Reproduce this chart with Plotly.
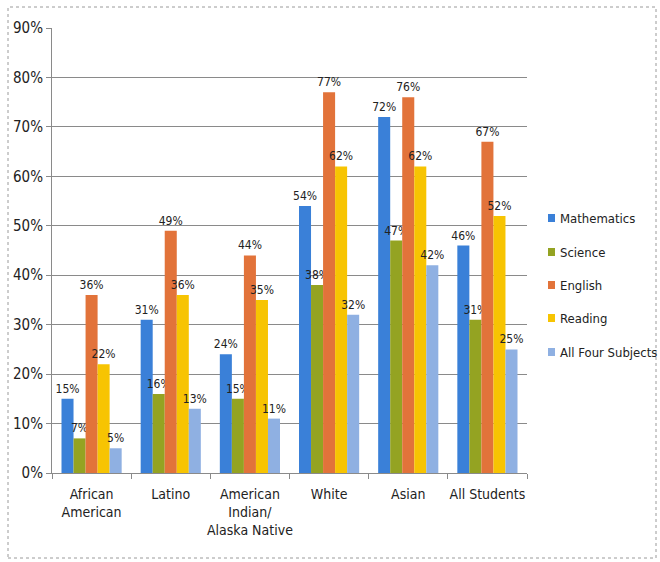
import plotly.graph_objects as go

categories = ["African<br>American", "Latino", "American<br>Indian/<br>Alaska Native", "White", "Asian", "All Students"]
series_names = ["Mathematics", "Science", "English", "Reading", "All Four Subjects"]
mathematics = [15, 31, 24, 54, 72, 46]
science = [7, 16, 15, 38, 47, 31]
english = [36, 49, 44, 77, 76, 67]
reading = [22, 36, 35, 62, 62, 52]
all_four = [5, 13, 11, 32, 42, 25]
colors = ["#3a80d8", "#94a322", "#e2733a", "#f7c402", "#8fb0e2"]
y_ticks = [0, 10, 20, 30, 40, 50, 60, 70, 80, 90]

FONT = "Liberation Sans Narrow, DejaVu Sans Condensed, Liberation Sans, Arial, sans-serif"

# plot area in pixels
L, R, T, B = 52, 527, 28, 473
W, H = R - L, B - T
def px(x):
    return (x - L) / W
def py(y):
    return (B - y) / H

fig = go.Figure()
for i, (name, vals) in enumerate(zip(series_names, [mathematics, science, english, reading, all_four])):
    fig.add_trace(go.Bar(
        x=categories, y=vals, name=name,
        marker=dict(color=colors[i], line=dict(width=0)),
        text=[f"{v}%" for v in vals], textposition="outside", constraintext="none",
        textfont=dict(family=FONT, size=12, color="#222"),
        cliponaxis=False, showlegend=False,
    ))

shapes = [dict(type="rect", xref="paper", yref="paper",
               x0=px(8), x1=px(656), y0=py(558), y1=py(7),
               line=dict(color="#9a9a9a", width=1, dash="dot"))]
annotations = []
legend_y = [218, 252, 285, 318, 352]
for i, name in enumerate(series_names):
    yc = legend_y[i]
    shapes.append(dict(type="rect", xref="paper", yref="paper",
                       x0=px(548), x1=px(555), y0=py(yc + 4), y1=py(yc - 4),
                       fillcolor=colors[i], line=dict(width=0)))
    annotations.append(dict(xref="paper", yref="paper", x=px(558), y=py(yc),
                            xanchor="left", yanchor="middle", showarrow=False,
                            text=name, font=dict(family=FONT, size=13, color="#222")))

fig.update_layout(
    width=660, height=562,
    margin=dict(l=L, r=660 - R, t=T, b=562 - B),
    barmode="group", bargap=0.24, bargroupgap=0,
    plot_bgcolor="white", paper_bgcolor="white",
    font=dict(family=FONT, size=14, color="#222"),
    showlegend=False,
    yaxis=dict(range=[0, 90], tickvals=y_ticks, ticktext=[f"{t}%" for t in y_ticks],
               showgrid=True, gridcolor="#8a8a8a", gridwidth=1,
               showline=True, linecolor="#8a8a8a", linewidth=1,
               ticks="outside", ticklen=5, tickcolor="#8a8a8a",
               tickfont=dict(family=FONT, size=15, color="#222"), zeroline=False),
    xaxis=dict(showline=True, linecolor="#8a8a8a", linewidth=1, tickangle=0,
               ticks="outside", ticklen=5, tickcolor="#8a8a8a", tickson="boundaries",
               ticklabelstandoff=8,
               tickfont=dict(family=FONT, size=14, color="#222")),
    shapes=shapes,
    annotations=annotations,
)

fig.write_html("out.html")
